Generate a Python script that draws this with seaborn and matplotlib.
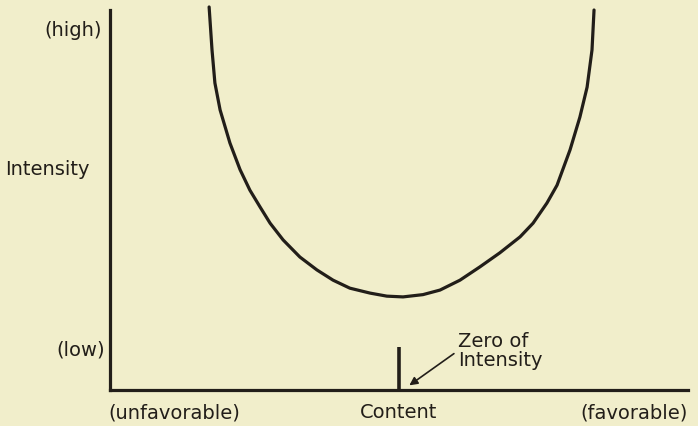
import matplotlib
matplotlib.use("Agg")
from matplotlib import pyplot as plt
import pandas as pd
import seaborn as sns

# content (unfavorable -1 .. favorable +1) and intensity (low 0 .. high 1)
content = [-0.657, -0.647, -0.637, -0.619, -0.585, -0.550, -0.516, -0.481,
           -0.446, -0.401, -0.343, -0.284, -0.228, -0.170, -0.100, -0.042,
           0.014, 0.083, 0.142, 0.211, 0.280, 0.349, 0.419, 0.464, 0.512,
           0.547, 0.592, 0.626, 0.651, 0.668, 0.675]
intensity = [1.008, 0.895, 0.808, 0.737, 0.650, 0.580, 0.526, 0.482,
             0.439, 0.395, 0.350, 0.316, 0.289, 0.268, 0.255, 0.247,
             0.245, 0.251, 0.263, 0.289, 0.324, 0.361, 0.403, 0.439, 0.492,
             0.539, 0.632, 0.718, 0.797, 0.895, 1.000]
zero_x = 0.0
zero_top = 0.113

y_labels = ["(high)", "Intensity", "(low)"]
x_labels = ["(unfavorable)", "Content", "(favorable)"]
note = "Zero of\nIntensity"

bg = "#f1eecb"
ink = "#221e19"

sns.set_theme(style="white")
plt.rcParams["font.family"] = ["DejaVu Sans"]

df = pd.DataFrame({"content": content, "intensity": intensity})

fig = plt.figure(figsize=(6.98, 4.26), dpi=100, facecolor=bg)
ax = fig.add_axes([0.1576, 0.0845, 0.828, 0.892])
ax.set_facecolor(bg)

sns.lineplot(data=df, x="content", y="intensity", ax=ax, color=ink,
             linewidth=2.3, estimator=None, sort=False, clip_on=False,
             solid_joinstyle="round", solid_capstyle="round")
ax.vlines(zero_x, 0, zero_top, color=ink, linewidth=2.6)

ax.set_xlim(-1, 1)
ax.set_ylim(0, 1)
ax.set_xticks([])
ax.set_yticks([])
ax.set_xlabel("")
ax.set_ylabel("")
for side in ["top", "right"]:
    ax.spines[side].set_visible(False)
for side in ["left", "bottom"]:
    ax.spines[side].set_color(ink)
    ax.spines[side].set_linewidth(2.3)

fs = 14
ax.text(-1.028, 0.947, y_labels[0], ha="right", va="center", fontsize=fs,
        color=ink)
ax.text(-1.363, 0.579, y_labels[1], ha="left", va="center", fontsize=fs,
        color=ink)
ax.text(-1.017, 0.105, y_labels[2], ha="right", va="center", fontsize=fs,
        color=ink)
ax.text(-1.007, -0.06, x_labels[0], ha="left", va="center", fontsize=fs,
        color=ink)
ax.text(0.0, -0.06, x_labels[1], ha="center", va="center", fontsize=fs,
        color=ink)
ax.text(1.0, -0.06, x_labels[2], ha="right", va="center", fontsize=fs,
        color=ink)
ax.text(0.204, 0.103, note, ha="left", va="center", fontsize=fs,
        color=ink, linespacing=1.0)
ax.annotate("", xy=(0.028, 0.008), xytext=(0.198, 0.100),
            arrowprops=dict(arrowstyle="-|>", color=ink, lw=1.2,
                            mutation_scale=12))

fig.savefig("out.png", dpi=100, facecolor=bg)
